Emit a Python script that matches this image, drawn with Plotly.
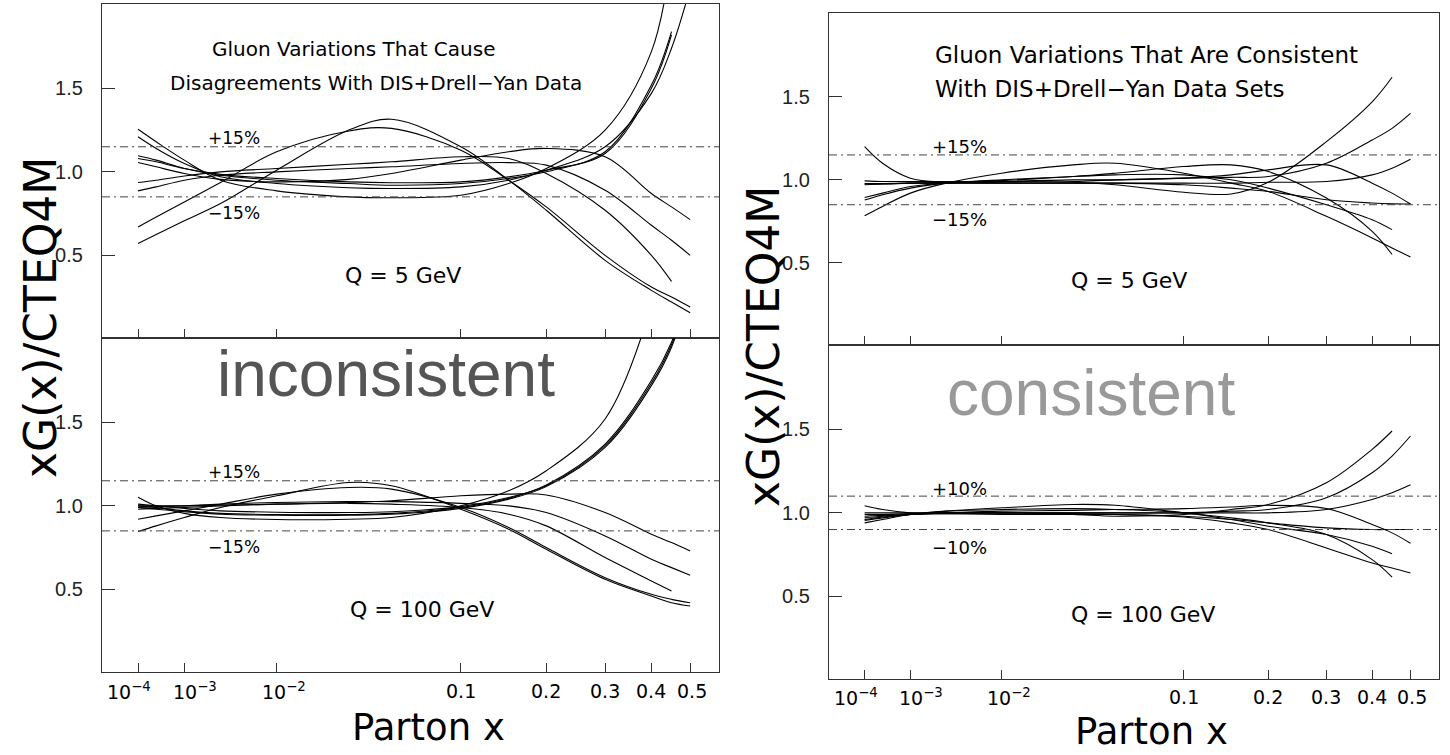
import plotly.graph_objects as go

W, H = 1450, 755

# ---------------- data ----------------
x_samples = [1e-4, 3e-4, 1e-3, 3e-3, 1e-2, 0.03, 0.05, 0.1, 0.15, 0.2, 0.3, 0.4, 0.45, 0.5]
tick_x = [1e-4, 1e-3, 1e-2, 0.1, 0.2, 0.3, 0.4, 0.5]
tick_text = ["10<sup>−4</sup>", "10<sup>−3</sup>", "10<sup>−2</sup>", "0.1", "0.2", "0.3", "0.4", "0.5"]
y_ticks = [0.5, 1.0, 1.5]
y_tick_text = ["0.5", "1.0", "1.5"]

# inconsistent, Q = 5 GeV
inc_q5 = [
    [1.255, 1.18, 1.07, 0.95, 0.886, 0.85, 0.845, 0.86, 0.93, 1.02, 1.25, 1.72, 2.3, None],
    [1.21, 1.14, 1.05, 0.97, 0.93, 0.905, 0.90, 0.91, 0.95, 1.01, 1.15, 1.47, 1.74, 2.1],
    [1.096, 1.07, 1.02, 0.98, 0.95, 0.93, 0.92, 0.93, 0.96, 1.0, 1.12, 1.52, 1.84, None],
    [1.08, 1.06, 1.02, 0.985, 0.96, 0.94, 0.935, 0.94, 0.97, 1.01, 1.11, 1.50, 1.82, None],
    [1.056, 1.03, 0.99, 0.955, 0.94, 0.955, 0.99, 1.07, 1.12, 1.14, 1.09, 0.87, 0.79, 0.714],
    [0.936, 0.95, 0.975, 1.0, 1.02, 1.045, 1.06, 1.09, 1.08, 0.99, 0.77, 0.5, 0.344, None],
    [0.886, 0.91, 0.95, 0.98, 1.0, 1.02, 1.03, 1.05, 1.055, 1.04, 0.89, 0.68, 0.59, 0.5],
    [0.571, 0.625, 0.707, 0.81, 1.01, 1.25, 1.315, 1.15, 0.95, 0.77, 0.47, 0.29, 0.22, 0.156],
    [0.67, 0.73, 0.82, 0.936, 1.12, 1.245, 1.26, 1.13, 0.95, 0.79, 0.5, 0.31, 0.25, 0.19],
]
# inconsistent, Q = 100 GeV
inc_q100 = [
    [1.052, 1.0, 0.955, 0.93, 0.918, 0.92, 0.93, 1.0, 1.09, 1.21, 1.52, 2.2, None, None],
    [1.0, 0.99, 0.97, 0.955, 0.948, 0.948, 0.955, 0.99, 1.045, 1.125, 1.37, 1.75, 1.98, 2.3],
    [0.99, 0.98, 0.965, 0.95, 0.944, 0.944, 0.95, 0.985, 1.04, 1.115, 1.35, 1.72, 1.95, 2.3],
    [1.01, 1.0, 0.985, 0.97, 0.962, 0.96, 0.965, 0.995, 1.05, 1.12, 1.36, 1.735, 1.965, 2.3],
    [0.98, 0.985, 0.99, 1.0, 1.01, 1.02, 1.03, 1.06, 1.07, 1.065, 0.96, 0.83, 0.78, 0.73],
    [0.99, 0.995, 1.0, 1.01, 1.02, 1.025, 1.025, 1.015, 1.0, 0.96, 0.82, 0.68, 0.63, 0.585],
    [1.0, 1.0, 1.0, 1.005, 1.01, 1.015, 1.01, 0.99, 0.95, 0.88, 0.69, 0.55, 0.49, None],
    [0.846, 0.88, 0.93, 0.99, 1.06, 1.14, 1.12, 0.98, 0.86, 0.74, 0.56, 0.46, 0.42, 0.40],
    [0.92, 0.94, 0.97, 1.01, 1.07, 1.11, 1.10, 0.99, 0.87, 0.75, 0.57, 0.47, 0.44, 0.42],
]
# consistent, Q = 5 GeV
con_q5 = [
    [1.2, 1.1, 1.01, 0.985, 0.98, 0.98, 0.98, 0.98, 0.98, 0.985, 0.99, 1.03, 1.07, 1.124],
    [0.784, 0.84, 0.92, 0.98, 1.04, 1.09, 1.10, 1.04, 0.98, 0.93, 0.78, 0.65, 0.59, 0.535],
    [0.878, 0.91, 0.95, 0.98, 1.0, 1.02, 1.04, 1.08, 1.09, 1.05, 0.89, 0.69, 0.55, None],
    [0.894, 0.92, 0.96, 0.98, 0.99, 1.0, 1.0, 1.01, 1.03, 1.06, 1.09, 0.98, 0.92, 0.854],
    [0.994, 0.99, 0.99, 0.99, 0.99, 0.985, 0.97, 0.925, 0.915, 0.985, 1.23, 1.47, 1.618, None],
    [0.975, 0.975, 0.98, 0.98, 0.985, 0.99, 1.0, 1.01, 1.015, 1.02, 1.10, 1.24, 1.31, 1.40],
    [0.978, 0.978, 0.98, 0.98, 0.98, 0.98, 0.98, 0.97, 0.95, 0.93, 0.88, 0.86, 0.855, 0.854],
    [0.97, 0.975, 0.98, 0.985, 0.995, 1.02, 1.03, 1.03, 1.0, 0.95, 0.85, 0.76, 0.70, None],
]
# consistent, Q = 100 GeV
con_q100 = [
    [0.97, 0.98, 0.99, 1.0, 1.0, 0.99, 0.98, 0.99, 1.02, 1.05, 1.18, 1.38, 1.49, None],
    [0.96, 0.975, 0.99, 1.0, 1.0, 1.0, 1.0, 1.0, 1.01, 1.02, 1.09, 1.24, 1.34, 1.46],
    [0.98, 0.985, 0.99, 0.995, 1.0, 1.0, 1.0, 1.0, 1.0, 1.0, 1.02, 1.08, 1.12, 1.168],
    [1.042, 1.02, 1.0, 0.995, 0.99, 0.99, 0.99, 0.98, 0.96, 0.94, 0.91, 0.90, 0.90, 0.90],
    [0.955, 0.97, 0.99, 1.0, 1.01, 1.015, 1.02, 1.025, 1.035, 1.045, 1.026, 0.93, 0.88, 0.818],
    [0.99, 0.99, 0.995, 1.01, 1.02, 1.025, 1.02, 1.0, 0.96, 0.92, 0.87, 0.80, 0.755, None],
    [0.94, 0.96, 0.99, 1.01, 1.03, 1.05, 1.045, 1.0, 0.97, 0.94, 0.87, 0.72, 0.615, None],
    [1.0, 1.0, 1.0, 1.0, 1.0, 0.995, 0.99, 0.975, 0.94, 0.90, 0.79, 0.70, 0.67, 0.64],
]

band_inc = [1.15, 0.85]
band_con_q5 = [1.15, 0.85]
band_con_q100 = [1.10, 0.90]

POW = 0.3  # axis uses x^0.3 spacing


def tx(x):
    return x ** POW


# ---------------- layout helpers ----------------
def px_x(p):
    return p / W


def px_y(p):
    return 1 - p / H


fig = go.Figure()

# tick-label horizontal nudges (px), as in the reference where labels avoid overlap
label_shift = [-9, 11, 7, 0, 0, 0, 0, 2]

panels = [
    # (data, xaxis id, yaxis id, x domain px, y domain px (top,bottom), band, label y px or None)
    (inc_q5, "x", "y", (102, 719), (4, 338), band_inc, None),
    (inc_q100, "x2", "y2", (102, 719), (338, 672), band_inc, 691),
    (con_q5, "x3", "y3", (829, 1439), (13, 345), band_con_q5, None),
    (con_q100, "x4", "y4", (829, 1439), (345, 679), band_con_q100, 697),
]

xt = [tx(v) for v in x_samples]
ann = []

for data, xa, ya, xd, yd, band, label_y in panels:
    for ys in data:
        xs = [xt[i] for i in range(len(ys)) if ys[i] is not None]
        yv = [v for v in ys if v is not None]
        fig.add_trace(go.Scatter(
            x=xs, y=yv, xaxis=xa, yaxis=ya, mode="lines",
            line=dict(color="black", width=1.1, shape="spline", smoothing=1.0),
            showlegend=False, hoverinfo="skip"))
    for b in band:
        fig.add_shape(type="line", xref=f"{xa} domain", yref=ya,
                      x0=0, x1=1, y0=b, y1=b,
                      line=dict(color="#444", width=1, dash="8px,4px,2px,4px"))

    n = "" if xa == "x" else xa[1:]
    fig.layout[f"xaxis{n}"] = dict(
        domain=[px_x(xd[0]), px_x(xd[1])],
        anchor=ya, range=[0.0142, 0.8514],
        tickvals=[tx(v) for v in tick_x], ticktext=tick_text,
        showticklabels=False, ticks="inside", ticklen=9, tickcolor="#333",
        showline=True, mirror=True, linecolor="#333", linewidth=1.2,
        showgrid=False, zeroline=False,
    )
    fig.layout[f"yaxis{n}"] = dict(
        domain=[px_y(yd[1]), px_y(yd[0])],
        anchor=xa, range=[0.005, 2.005],
        tickvals=y_ticks, ticktext=y_tick_text,
        ticks="inside", ticklen=13, tickcolor="#333",
        showline=True, mirror=True, linecolor="#333", linewidth=1.2,
        showgrid=False, zeroline=False, ticklabelstandoff=14,
        tickfont=dict(family="Liberation Sans", size=20, color="#222"),
    )
    if label_y is not None:
        for v, t, s in zip(tick_x, tick_text, label_shift):
            ann.append(dict(text=t, x=tx(v), xref=xa, y=px_y(label_y), yref="paper",
                            xshift=s, showarrow=False, xanchor="center", yanchor="middle",
                            font=dict(family="DejaVu Sans", size=19, color="black")))


def add_text(text, x, y, size, family="DejaVu Sans", color="black", xanchor="center", angle=0):
    ann.append(dict(text=text, x=px_x(x), y=px_y(y), xref="paper", yref="paper",
                    showarrow=False, xanchor=xanchor, yanchor="middle", textangle=angle,
                    font=dict(family=family, size=size, color=color)))


# left column texts
add_text("Gluon Variations That Cause", 353, 49, 20)
add_text("Disagreements With DIS+Drell−Yan Data", 376, 83, 20)
add_text("+15%", 234, 138, 17)
add_text("−15%", 234, 213, 17)
add_text("Q = 5 GeV", 403, 275, 22)
add_text("inconsistent", 386, 374, 64, family="Liberation Sans", color="#555555")
add_text("+15%", 234, 472, 17)
add_text("−15%", 234, 547, 17)
add_text("Q = 100 GeV", 422, 609, 22)
add_text("Parton x", 428, 727, 37)
add_text("xG(x)/CTEQ4M", 40, 318, 44, angle=-90)

# right column texts
add_text("Gluon Variations That Are Consistent", 933, 55, 23, xanchor="left")
add_text("With DIS+Drell−Yan Data Sets", 933, 89, 23, xanchor="left")
add_text("+15%", 959, 147, 18)
add_text("−15%", 959, 220, 18)
add_text("Q = 5 GeV", 1129, 280, 22)
add_text("consistent", 1091, 393, 64, family="Liberation Sans", color="#999999")
add_text("+10%", 959, 488, 18)
add_text("−10%", 959, 547, 18)
add_text("Q = 100 GeV", 1143, 614, 22)
add_text("Parton x", 1151, 731, 37)
add_text("xG(x)/CTEQ4M", 763, 347, 44, angle=-90)

fig.update_layout(
    width=W, height=H, margin=dict(l=0, r=0, t=0, b=0),
    paper_bgcolor="white", plot_bgcolor="white",
    annotations=ann, showlegend=False,
)

fig.write_html("out.html", config={"displayModeBar": False})
